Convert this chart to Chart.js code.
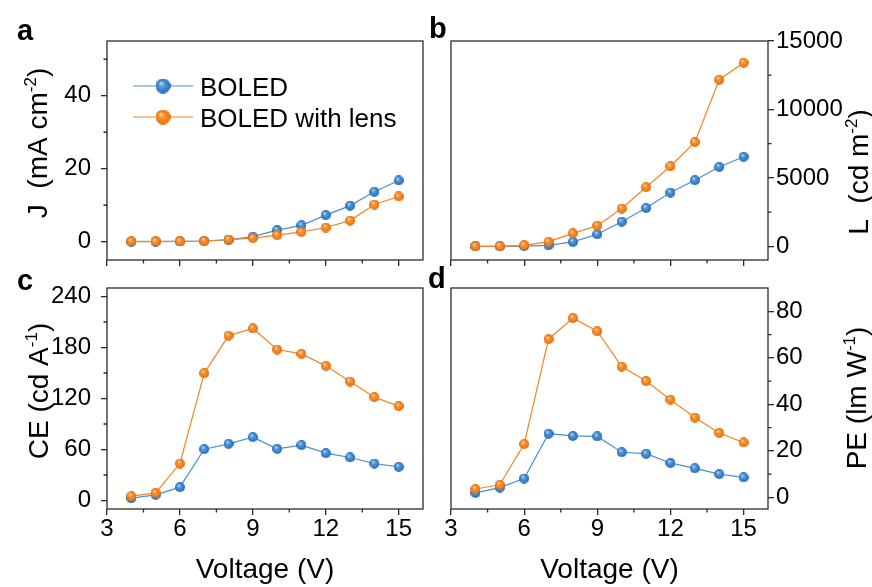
<!DOCTYPE html>
<html>
<head>
<meta charset="utf-8">
<script src="https://cdn.jsdelivr.net/npm/chart.js@4"></script>
<style>
  html, body { margin: 0; padding: 0; background: #fff; }
  #wrap { position: relative; width: 872px; height: 587px; }
  #wrap canvas { position: absolute; left: 0; top: 0; }
</style>
</head>
<body>
<div id="wrap">
  <canvas id="pa" width="872" height="587"></canvas>
  <canvas id="pb" width="872" height="587"></canvas>
  <canvas id="pc" width="872" height="587"></canvas>
  <canvas id="pd" width="872" height="587"></canvas>
</div>
<script>
/* ---------- data ---------- */
const voltage = [4, 5, 6, 7, 8, 9, 10, 11, 12, 13, 14, 15];
const seriesNames = ['BOLED', 'BOLED with lens'];

const jBoled  = [0.05, 0.05, 0.1, 0.2, 0.5, 1.4, 3.2, 4.5, 7.3, 9.9, 13.7, 16.8];
const jLens   = [0.1, 0.1, 0.1, 0.2, 0.6, 1.0, 1.8, 2.7, 3.9, 5.8, 10.2, 12.4];
const lBoled  = [0, 0, 20, 70, 320, 880, 1800, 2800, 3930, 4830, 5800, 6540];
const lLens   = [0, 0, 70, 340, 950, 1510, 2760, 4320, 5850, 7610, 12170, 13410];
const ceBoled = [2.7, 6.7, 15.7, 60.4, 66.7, 74.5, 60.8, 65.1, 55.7, 50.6, 43.5, 39.6];
const ceLens  = [5.1, 9, 43.5, 149.8, 194, 202.4, 177.6, 172.5, 158.4, 140, 121.6, 111];
const peBoled = [1.9, 4.2, 8.1, 27.4, 26.4, 26.2, 19.4, 18.8, 14.8, 12.5, 10, 8.6];
const peLens  = [3.6, 5.4, 22.9, 68, 77.1, 71.4, 56.2, 50, 42, 34.3, 27.7, 23.6];

// tick values
const voltTicks = [3, 6, 9, 12, 15];
const voltMinor = [4.5, 7.5, 10.5, 13.5];
const jTicks = [0, 20, 40];             const jMinor = [10, 30, 50];
const lTicks = [0, 5000, 10000, 15000]; const lMinor = [2500, 7500, 12500];
const ceTicks = [0, 60, 120, 180, 240]; const ceMinor = [30, 90, 150, 210];
const peTicks = [0, 20, 40, 60, 80];    const peMinor = [10, 30, 50, 70];

/* ---------- styling ---------- */
const W = 872, H = 587;
const FONT = 'Arial, "Liberation Sans", sans-serif';
const AXIS = '#2b2b2b';
const BLUE_LINE = '#4a8fd6', ORANGE_LINE = '#f2842a';

// shaded sphere markers like the original plot
function ball(stops, d) {
  const c = document.createElement('canvas');
  c.width = c.height = d;
  const g = c.getContext('2d');
  const r = d / 2;
  const grad = g.createRadialGradient(r * 0.72, r * 0.62, 0, r, r, r);
  grad.addColorStop(0, stops[0]);
  grad.addColorStop(0.3, stops[1]);
  grad.addColorStop(0.8, stops[2]);
  grad.addColorStop(1, stops[3]);
  g.fillStyle = grad;
  g.beginPath(); g.arc(r, r, r, 0, Math.PI * 2); g.fill();
  return c;
}
const blueStops = ['#eef5fd', '#5c9fe0', '#2f79c6', '#2767ad'];
const orangeStops = ['#fff2e2', '#f7993f', '#ef7b14', '#d9690a'];
const blueBall = ball(blueStops, 10), orangeBall = ball(orangeStops, 10);
const blueBallBig = ball(blueStops, 15), orangeBallBig = ball(orangeStops, 15);

function pts(ys) { return voltage.map((v, i) => ({ x: v, y: ys[i] })); }

// rotated axis title with superscript parts
function drawRotated(ctx, parts, x, y) {
  let total = 0;
  parts.forEach(p => {
    ctx.font = (p.sup ? '17px ' : '28px ') + FONT;
    p.w = ctx.measureText(p.t).width;
    total += p.w;
  });
  ctx.save();
  ctx.translate(x, y);
  ctx.rotate(-Math.PI / 2);
  ctx.textAlign = 'left';
  ctx.textBaseline = 'alphabetic';
  let u = -total / 2;
  parts.forEach(p => {
    ctx.font = (p.sup ? '17px ' : '28px ') + FONT;
    ctx.fillText(p.t, u, p.sup ? -11 : 0);
    u += p.w;
  });
  ctx.restore();
}

const decor = {
  id: 'decor',
  afterDraw(chart, args, o) {
    const ctx = chart.ctx, a = chart.chartArea;
    const xs = chart.scales.x, ys = chart.scales.y;
    ctx.save();
    ctx.strokeStyle = AXIS;
    ctx.lineWidth = 1.3;
    ctx.strokeRect(a.left, a.top, a.right - a.left, a.bottom - a.top);
    // minor ticks
    ctx.beginPath();
    o.minorX.forEach(v => {
      const px = xs.getPixelForValue(v);
      ctx.moveTo(px, a.bottom); ctx.lineTo(px, a.bottom + 3.5);
    });
    o.minorY.forEach(v => {
      const py = ys.getPixelForValue(v);
      if (o.right) { ctx.moveTo(a.right, py); ctx.lineTo(a.right + 3.5, py); }
      else { ctx.moveTo(a.left, py); ctx.lineTo(a.left - 3.5, py); }
    });
    ctx.stroke();
    // panel letter
    ctx.fillStyle = '#000';
    ctx.font = 'bold 29px ' + FONT;
    ctx.textAlign = 'left';
    ctx.textBaseline = 'alphabetic';
    ctx.fillText(o.letter, o.letterX, o.letterY);
    // y title
    drawRotated(ctx, o.yTitle, o.yTitleX, o.yTitleY);
    // legend
    if (o.legend) {
      const lines = [BLUE_LINE, ORANGE_LINE], balls = [blueBallBig, orangeBallBig];
      seriesNames.forEach((name, i) => {
        const y = 86 + i * 31;
        ctx.strokeStyle = lines[i];
        ctx.lineWidth = 1.2;
        ctx.beginPath(); ctx.moveTo(133, y); ctx.lineTo(193, y); ctx.stroke();
        ctx.drawImage(balls[i], 163 - 7.5, y - 7.5);
        ctx.fillStyle = '#000';
        ctx.font = '26px ' + FONT;
        ctx.fillText(name, 200, y + 9.5);
      });
    }
    ctx.restore();
  }
};

function makePanel(id, area, cfg) {
  const right = !!cfg.right;
  const xh = cfg.xLabels ? H - area.b : 30;
  const tickFont = { family: FONT, size: 24 };
  new Chart(document.getElementById(id), {
    type: 'line',
    data: {
      datasets: [
        { label: seriesNames[0], data: pts(cfg.blue), borderColor: BLUE_LINE, borderWidth: 1.2,
          pointStyle: blueBall, order: 2 },
        { label: seriesNames[1], data: pts(cfg.orange), borderColor: ORANGE_LINE, borderWidth: 1.2,
          pointStyle: orangeBall, order: 1 }
      ]
    },
    options: {
      responsive: false,
      animation: false,
      events: [],
      layout: {
        padding: {
          left: right ? area.l : 0,
          right: right ? 0 : W - area.r,
          top: area.t,
          bottom: H - area.b - xh
        }
      },
      scales: {
        x: {
          type: 'linear', min: 3, max: 16,
          afterBuildTicks: s => { s.ticks = voltTicks.map(v => ({ value: v })); },
          afterFit: s => { s.height = xh; },
          ticks: { callback: v => cfg.xLabels ? String(v) : '', font: tickFont, color: '#000',
                   padding: 0, maxRotation: 0, autoSkip: false },
          grid: { drawOnChartArea: false, drawTicks: true, tickLength: 6, color: AXIS, lineWidth: 1.3 },
          border: { display: false },
          title: { display: !!cfg.xLabels, text: 'Voltage (V)', color: '#000',
                   font: { family: FONT, size: 28 }, padding: { top: 0, bottom: 0 } }
        },
        y: {
          type: 'linear', position: right ? 'right' : 'left',
          min: cfg.yMin, max: cfg.yMax,
          afterBuildTicks: s => { s.ticks = cfg.yTicks.map(v => ({ value: v })); },
          afterFit: s => { s.width = right ? W - area.r : area.l; },
          ticks: { callback: v => String(v), font: tickFont, color: '#000',
                   padding: right ? 2 : 10, autoSkip: false },
          grid: { drawOnChartArea: false, drawTicks: true, tickLength: 6, color: AXIS, lineWidth: 1.3 },
          border: { display: false }
        }
      },
      plugins: {
        legend: { display: false },
        tooltip: { enabled: false },
        decor: {
          right, letter: cfg.letter, letterX: cfg.letterX, letterY: cfg.letterY,
          yTitle: cfg.yTitle, yTitleX: cfg.yTitleX, yTitleY: cfg.yTitleY,
          minorX: voltMinor, minorY: cfg.yMinor, legend: !!cfg.legend
        }
      }
    },
    plugins: [decor]
  });
}

makePanel('pa', { l: 107, t: 41, r: 423, b: 260 }, {
  blue: jBoled, orange: jLens, yMin: -5, yMax: 55, yTicks: jTicks, yMinor: jMinor,
  letter: 'a', letterX: 17, letterY: 40, legend: true,
  yTitle: [{ t: 'J  (mA cm' }, { t: '-2', sup: true }, { t: ')' }], yTitleX: 47, yTitleY: 143
});
makePanel('pb', { l: 451, t: 41, r: 768, b: 260 }, {
  blue: lBoled, orange: lLens, yMin: -1000, yMax: 15000, yTicks: lTicks, yMinor: lMinor, right: true,
  letter: 'b', letterX: 429, letterY: 38,
  yTitle: [{ t: 'L  (cd m' }, { t: '-2', sup: true }, { t: ')' }], yTitleX: 868, yTitleY: 172
});
makePanel('pc', { l: 107, t: 288, r: 423, b: 509 }, {
  blue: ceBoled, orange: ceLens, yMin: -10, yMax: 250, yTicks: ceTicks, yMinor: ceMinor, xLabels: true,
  letter: 'c', letterX: 17, letterY: 290,
  yTitle: [{ t: 'CE (cd A' }, { t: '-1', sup: true }, { t: ')' }], yTitleX: 48, yTitleY: 391
});
makePanel('pd', { l: 451, t: 288, r: 768, b: 509 }, {
  blue: peBoled, orange: peLens, yMin: -5, yMax: 90, yTicks: peTicks, yMinor: peMinor, right: true, xLabels: true,
  letter: 'd', letterX: 428, letterY: 288,
  yTitle: [{ t: 'PE (lm W' }, { t: '-1', sup: true }, { t: ')' }], yTitleX: 866, yTitleY: 398
});
</script>
</body>
</html>
